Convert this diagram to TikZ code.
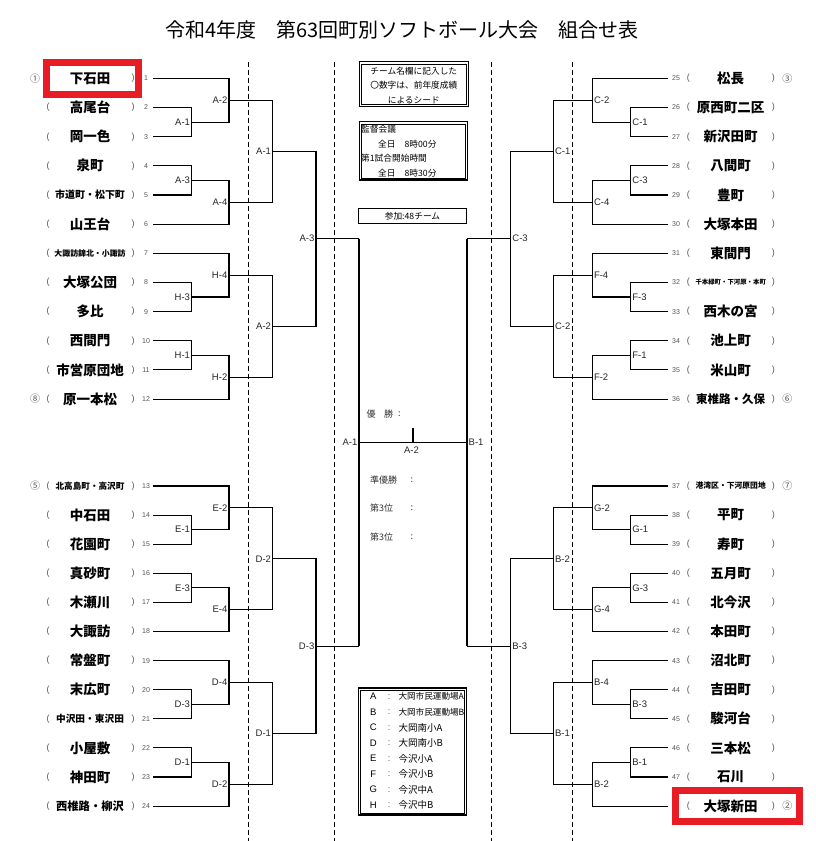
\documentclass[tikz,border=0pt]{standalone}
\usepackage{fontspec}
\setmainfont{Liberation Sans}
\newfontfamily\jp{Noto Sans CJK JP}
\usetikzlibrary{calc}
\definecolor{redbox}{RGB}{232,28,36}
\definecolor{txtgray}{RGB}{85,85,85}
\newcommand\ns[2]{{\fontsize{#1}{#1}\selectfont #2}}
\tikzset{
  br/.style={line width=1.1pt, black},
  dsh/.style={line width=0.9pt, black, dash pattern=on 5pt off 3pt},
  lbL/.style={anchor=east, inner sep=0pt, xshift=-1.5pt, font=\fontsize{9.5}{10}\selectfont, text=black!85},
  lbR/.style={anchor=west, inner sep=0pt, xshift=1.5pt, font=\fontsize{9.5}{10}\selectfont, text=black!85},
  tname/.style={inner sep=0pt, font=\jp\bfseries\fontsize{13.5}{14}\selectfont},
  paren/.style={inner sep=0pt, font=\fontsize{9}{10}\selectfont, text=txtgray},
  num/.style={inner sep=0pt, font=\fontsize{7}{8}\selectfont, text=txtgray},
  circ/.style={inner sep=0pt, font=\jp\fontsize{10}{11}\selectfont, text=txtgray},
  ctext/.style={inner sep=0pt, anchor=west, font=\jp\fontsize{9}{10}\selectfont, text=black!80},
  obox/.style={draw, line width=1.2pt, inner sep=0pt},
  ibox/.style={draw, line width=0.5pt, inner sep=0pt},
  sbox/.style={draw, line width=0.9pt, inner sep=0pt},
  btext/.style={inner sep=0pt, font=\jp\fontsize{8.7}{14.5}\selectfont},
  redframe/.style={draw=redbox, line width=7pt},
}
\newcommand\sixblock[8]{%
  \pgfmathsetmacro\BYa{#2}%
  \pgfmathsetmacro\BYb{#2+#3}%
  \pgfmathsetmacro\BYc{#2+2*#3}%
  \pgfmathsetmacro\BYd{#2+3*#3}%
  \pgfmathsetmacro\BYe{#2+4*#3}%
  \pgfmathsetmacro\BYf{#2+5*#3}%
  \pgfmathsetmacro\BMa{(\BYb+\BYc)/2}%
  \pgfmathsetmacro\BMb{(\BYa+\BMa)/2}%
  \pgfmathsetmacro\BMc{(\BYd+\BYe)/2}%
  \pgfmathsetmacro\BMd{(\BMc+\BYf)/2}%
  \pgfmathsetmacro\BMe{(\BMb+\BMd)/2}%
  \expandafter\xdef\csname mid#1\endcsname{\BMe}%
  \coordinate (#1r1) at (\Xs,\BYa);
  \coordinate (#1r2) at (\Xs,\BYb);
  \coordinate (#1r3) at (\Xs,\BYc);
  \coordinate (#1r4) at (\Xs,\BYd);
  \coordinate (#1r5) at (\Xs,\BYe);
  \coordinate (#1r6) at (\Xs,\BYf);
  \coordinate (#1p1) at (\Xa,\BMa);
  \coordinate (#1p2) at (\Xb,\BMb);
  \coordinate (#1p3) at (\Xa,\BMc);
  \coordinate (#1p4) at (\Xb,\BMd);
  \coordinate (#1p5) at (\Xc,\BMe);
  \draw[br] (#1r2) -| (#1p1) (#1r3) -| (#1p1)
            (#1r1) -| (#1p2) (#1p1) -| (#1p2)
            (#1r4) -| (#1p3) (#1r5) -| (#1p3)
            (#1p3) -| (#1p4) (#1r6) -| (#1p4)
            (#1p2) -| (#1p5) (#1p4) -| (#1p5);
  \node[lbside] (#1l1) at (#1p1) {#4};
  \node[lbside] (#1l2) at (#1p2) {#5};
  \node[lbside] (#1l3) at (#1p3) {#6};
  \node[lbside] (#1l4) at (#1p4) {#7};
  \node[lbside] (#1l5) at (#1p5) {#8};
}
\newcommand\teamL[4]{%
  \ifx\relax#4\relax\else\node[circ] (cL#1) at (35,#2) {#4};\fi
  \node[paren] (oL#1) at (48,#2) {(};
  \node[tname] (tL#1) at (90,#2) {#3};
  \node[paren] (eL#1) at (133,#2) {)};
  \node[num] (nL#1) at (146,#2) {#1};
}
\newcommand\teamR[5]{%
  \ifx\relax#4\relax\else\node[circ] (cR#1) at (787.3,#2) {#4};\fi
  \node[paren] (oR#1) at (688.3,#2) {(};
  \node[tname] (tR#1) at (730.7,#2) {#3};
  \node[paren] (eR#1) at (773.3,#2) {)};
  \node[num] (nR#1) at (676,#2) {#5};
}
\begin{document}
\begin{tikzpicture}[x=1pt,y=-1pt]
\fill[white] (0,0) rectangle (816,841);
\useasboundingbox (0,0) rectangle (816,841);

% title
\node[inner sep=0pt, font=\jp\fontsize{20}{21}\selectfont] (title) at (402,30)
  {令和4年度\hspace{1em}第63回町別ソフトボール大会\hspace{1em}組合せ表};

% dashed separators
\foreach \dx [count=\k] in {248.3,334,491.7,572.3}{
  \coordinate (dt\k) at (\dx,62);
  \coordinate (db\k) at (\dx,841);
  \draw[dsh] (dt\k) -- (db\k);
}

% left brackets
\def\Xs{153}\def\Xa{191.7}\def\Xb{229}\def\Xc{272.7}
\tikzset{lbside/.style={lbL}}
\sixblock{LA}{78.3}{29.18}{A-1}{A-2}{A-3}{A-4}{A-1}
\sixblock{LH}{253.2}{29.18}{H-3}{H-4}{H-1}{H-2}{A-2}
\sixblock{LE}{486}{29.1}{E-1}{E-2}{E-3}{E-4}{D-2}
\sixblock{LD}{660.6}{29.1}{D-3}{D-4}{D-1}{D-2}{D-1}
% right brackets
\def\Xs{668.3}\def\Xa{630.7}\def\Xb{592.3}\def\Xc{553.3}
\tikzset{lbside/.style={lbR}}
\sixblock{RC}{78.3}{29.18}{C-1}{C-2}{C-3}{C-4}{C-1}
\sixblock{RF}{253.2}{29.18}{F-3}{F-4}{F-1}{F-2}{C-2}
\sixblock{RG}{486}{29.1}{G-1}{G-2}{G-3}{G-4}{B-2}
\sixblock{RB}{660.6}{29.1}{B-3}{B-4}{B-1}{B-2}{B-1}

\pgfmathsetmacro\midTop{(\midLA+\midLH)/2}
\pgfmathsetmacro\midBot{(\midLE+\midLD)/2}
\coordinate (LT) at (316,\midTop);
\coordinate (LB) at (316,\midBot);
\coordinate (RT) at (510.7,\midTop);
\coordinate (RBt) at (510.7,\midBot);
\coordinate (CLt) at (359,\midTop);
\coordinate (CLb) at (359,\midBot);
\coordinate (CRt) at (467,\midTop);
\coordinate (CRb) at (467,\midBot);
\draw[br] (LAp5) -| (LT) (LHp5) -| (LT) (LT) -- (CLt);
\draw[br] (LEp5) -| (LB) (LDp5) -| (LB) (LB) -- (CLb);
\draw[br] (RCp5) -| (RT) (RFp5) -| (RT) (RT) -- (CRt);
\draw[br] (RGp5) -| (RBt) (RBp5) -| (RBt) (RBt) -- (CRb);
\node[lbL] (lLT) at (LT) {A-3};
\node[lbL] (lLB) at (LB) {D-3};
\node[lbR] (lRT) at (RT) {C-3};
\node[lbR] (lRB) at (RBt) {B-3};
% final
\coordinate (CLm) at ($(CLt)!0.5!(CLb)$);
\coordinate (CRm) at ($(CRt)!0.5!(CRb)$);
\coordinate (CM) at ($(CLm)!0.5!(CRm)$);
\coordinate (CMt) at ($(CM)+(0,-14)$);
\draw[br] (CLt) -- (CLb) (CRt) -- (CRb) (CLm) -- (CRm) (CM) -- (CMt);
\node[lbL] (lCL) at (CLm) {A-1};
\node[lbR] (lCR) at (CRm) {B-1};
\node[lbL, anchor=north, xshift=0pt] (lCM) at ($(CM)+(0,4)$) {A-2};

% results
\node[ctext] (w1) at (366.5,414) {優\hspace{0.95em}勝};
\node[ctext] (w1c) at (398,414) {:};
\node[ctext] (w2) at (370,480) {準優勝};
\node[ctext] (w2c) at (410.5,480) {:};
\node[ctext] (w3) at (370,508.5) {第3位};
\node[ctext] (w3c) at (410.5,508.5) {:};
\node[ctext] (w4) at (370,537.5) {第3位};
\node[ctext] (w4c) at (410.5,537.5) {:};

% notes
\node[obox, minimum width=109, minimum height=45] (note1) at (413.8,84.2) {};
\node[ibox, minimum width=104.6, minimum height=40.6] (note1i) at (note1) {};
\node[btext, align=center] (note1t) at (413.8,85.5) {チーム名欄に記入した\\〇数字は、前年度成績\\によるシード};
\node[obox, minimum width=108.4, minimum height=58.3] (note2) at (413.5,150.9) {};
\node[ibox, minimum width=104, minimum height=53.9] (note2i) at (note2) {};
\node[btext, align=left, anchor=west] (note2t) at (361,151.4)
  {監督会議\\\hspace*{17pt}全日\hspace{9pt}8時00分\\第1試合開始時間\\\hspace*{17pt}全日\hspace{9pt}8時30分};
\node[sbox, minimum width=108.4, minimum height=15] (note3) at (412.5,215.8) {};
\node[btext] (note3t) at (note3) {参加:48チーム};

% legend
\node[obox, minimum width=108.4, minimum height=127] (leg) at (412.5,751.5) {};
\node[ibox, minimum width=104, minimum height=122.6] (legi) at (leg) {};
\foreach \L/\T/\s [count=\k from 0] in {A/大岡市民運動場A/8.6, B/大岡市民運動場B/8.6, C/大岡南小A/9.5, D/大岡南小B/9.5, E/今沢小A/9.5, F/今沢小B/9.5, G/今沢中A/9.5, H/今沢中B/9.5}{
  \pgfmathsetmacro\ly{696.7+15.5*\k}
  \node[inner sep=0pt, font=\fontsize{9.5}{10}\selectfont] (legL\k) at (373.3,\ly) {\L};
  \node[inner sep=0pt, font=\fontsize{9}{10}\selectfont, text=black!70] (legC\k) at (389,\ly) {:};
  \node[inner sep=0pt, anchor=west, font=\jp\fontsize{\s}{10}\selectfont] (legT\k) at (398.3,\ly) {\T};
}

% left teams
\teamL{1}{78.3}{下石田}{①}
\teamL{2}{107.5}{高尾台}{}
\teamL{3}{136.7}{岡一色}{}
\teamL{4}{165.8}{泉町}{}
\teamL{5}{195.0}{\ns{10}{市道町・松下町}}{}
\teamL{6}{224.2}{山王台}{}
\teamL{7}{253.2}{\ns{7.9}{大諏訪錦北・小諏訪}}{}
\teamL{8}{282.4}{大塚公団}{}
\teamL{9}{311.6}{多比}{}
\teamL{10}{340.8}{西間門}{}
\teamL{11}{369.9}{市営原団地}{}
\teamL{12}{399.1}{原一本松}{⑧}
\teamL{13}{486.0}{\ns{8.6}{北高島町・高沢町}}{⑤}
\teamL{14}{515.1}{中石田}{}
\teamL{15}{544.2}{花園町}{}
\teamL{16}{573.3}{真砂町}{}
\teamL{17}{602.4}{木瀬川}{}
\teamL{18}{631.5}{大諏訪}{}
\teamL{19}{660.6}{常盤町}{}
\teamL{20}{689.7}{末広町}{}
\teamL{21}{718.8}{\ns{9.7}{中沢田・東沢田}}{}
\teamL{22}{747.9}{小屋敷}{}
\teamL{23}{777.0}{神田町}{}
\teamL{24}{806.1}{\ns{11.3}{西椎路・柳沢}}{}
% right teams
\teamR{25}{78.3}{松長}{③}{25}
\teamR{26}{107.5}{原西町二区}{}{26}
\teamR{27}{136.7}{新沢田町}{}{27}
\teamR{28}{165.8}{八間町}{}{28}
\teamR{29}{195.0}{豊町}{}{29}
\teamR{30}{224.2}{大塚本田}{}{30}
\teamR{31}{253.2}{東間門}{}{31}
\teamR{32}{282.4}{\ns{6.4}{千本緑町・下河原・本町}}{}{32}
\teamR{33}{311.6}{西木の宮}{}{33}
\teamR{34}{340.8}{池上町}{}{34}
\teamR{35}{369.9}{米山町}{}{35}
\teamR{36}{399.1}{\ns{11.5}{東椎路・久保}}{⑥}{36}
\teamR{37}{486.0}{\ns{7.8}{港湾区・下河原団地}}{⑦}{37}
\teamR{38}{515.1}{平町}{}{38}
\teamR{39}{544.2}{寿町}{}{39}
\teamR{40}{573.3}{五月町}{}{40}
\teamR{41}{602.4}{北今沢}{}{41}
\teamR{42}{631.5}{本田町}{}{42}
\teamR{43}{660.6}{沼北町}{}{43}
\teamR{44}{689.7}{吉田町}{}{44}
\teamR{45}{718.8}{駿河台}{}{45}
\teamR{46}{747.9}{三本松}{}{46}
\teamR{47}{777.0}{石川}{}{47}
\teamR{48}{806.1}{大塚新田}{②}{}

% red highlight frames
\node[redframe, minimum width=91.4, minimum height=32.7, inner sep=0pt] (hl1) at (92.5,78.6) {};
\node[redframe, minimum width=123.4, minimum height=31.3, inner sep=0pt] (hl2) at (737.5,805.9) {};
\end{tikzpicture}
\end{document}
